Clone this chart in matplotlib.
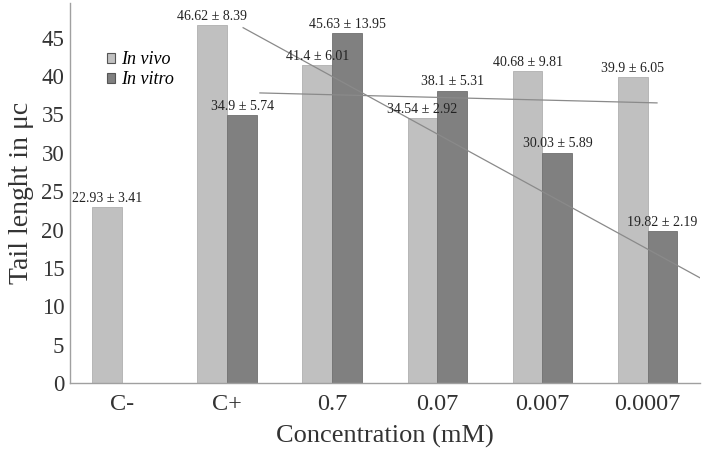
import numpy as np
import matplotlib
matplotlib.use("Agg")
import matplotlib.pyplot as plt

# datos del grafico
categorias = ["C-", "C+", "0.7", "0.07", "0.007", "0.0007"]
in_vivo = [22.93, 46.62, 41.4, 34.54, 40.68, 39.9]
in_vivo_sd = [3.41, 8.39, 6.01, 2.92, 9.81, 6.05]
in_vitro = [np.nan, 34.9, 45.63, 38.1, 30.03, 19.82]
in_vitro_sd = [np.nan, 5.74, 13.95, 5.31, 5.89, 2.19]

# lineas de tendencia (extremos)
tend1_x = [1.15, 5.5]
tend1_y = [46.3, 13.7]
tend2_x = [1.31, 5.09]
tend2_y = [37.8, 36.5]

yticks = [0, 5, 10, 15, 20, 25, 30, 35, 40, 45]

col_vivo = "#c0c0c0"
col_vitro = "#808080"
gris = "#a0a0a0"

plt.rcParams['font.family'] = ['Liberation Serif', 'DejaVu Serif']

fig, ax = plt.subplots(figsize=(7.05, 4.49), dpi=100)
fig.subplots_adjust(left=0.099, right=0.993, bottom=0.147, top=0.993)

x = np.arange(len(categorias))
w = 0.285

b1 = ax.bar(x - w / 2, in_vivo, w, color=col_vivo, edgecolor="#b0b0b0", linewidth=0.6, label="In vivo")
b2 = ax.bar(x + w / 2, np.nan_to_num(in_vitro), w, color=col_vitro, edgecolor="#707070", linewidth=0.6, label="In vitro")

for xi, v, sd in zip(x, in_vivo, in_vivo_sd):
    ax.text(xi - w / 2, v + 0.3, f"{v} ± {sd}", ha="center", va="bottom", fontsize=10, color="#222222")
for xi, v, sd in zip(x, in_vitro, in_vitro_sd):
    if np.isnan(v):
        continue
    ax.text(xi + w / 2, v + 0.3, f"{v} ± {sd}", ha="center", va="bottom", fontsize=10, color="#222222")

ax.plot(tend1_x, tend1_y, color="#8a8a8a", linewidth=0.9)
ax.plot(tend2_x, tend2_y, color="#8a8a8a", linewidth=0.9)

ax.set_xlim(-0.5, 5.5)
ax.set_ylim(0, 49.5)
ax.set_xticks(x)
ax.set_xticklabels(categorias)
ax.set_yticks(yticks)
ax.tick_params(axis="x", length=0, labelsize=17.5, colors="#333333", pad=8)
ax.tick_params(axis="y", length=0, labelsize=16.5, colors="#333333", pad=4)

for s in ["top", "right"]:
    ax.spines[s].set_visible(False)
for s in ["left", "bottom"]:
    ax.spines[s].set_color(gris)
    ax.spines[s].set_linewidth(1.0)

ax.set_xlabel("Concentration (mM)", fontsize=19, color="#333333", labelpad=7)
ax.set_ylabel("Tail lenght in μc", fontsize=20, color="#333333", labelpad=5)

leg = ax.legend(loc="upper left", bbox_to_anchor=(0.047, 0.892), frameon=False,
                prop={"style": "italic", "size": 13}, handlelength=0.45, handleheight=0.45,
                handletextpad=0.35, labelspacing=0.15, borderaxespad=0)
for h in leg.legend_handles:
    h.set_edgecolor("#555555")
    h.set_linewidth(0.8)

fig.savefig("out.png", dpi=100)
